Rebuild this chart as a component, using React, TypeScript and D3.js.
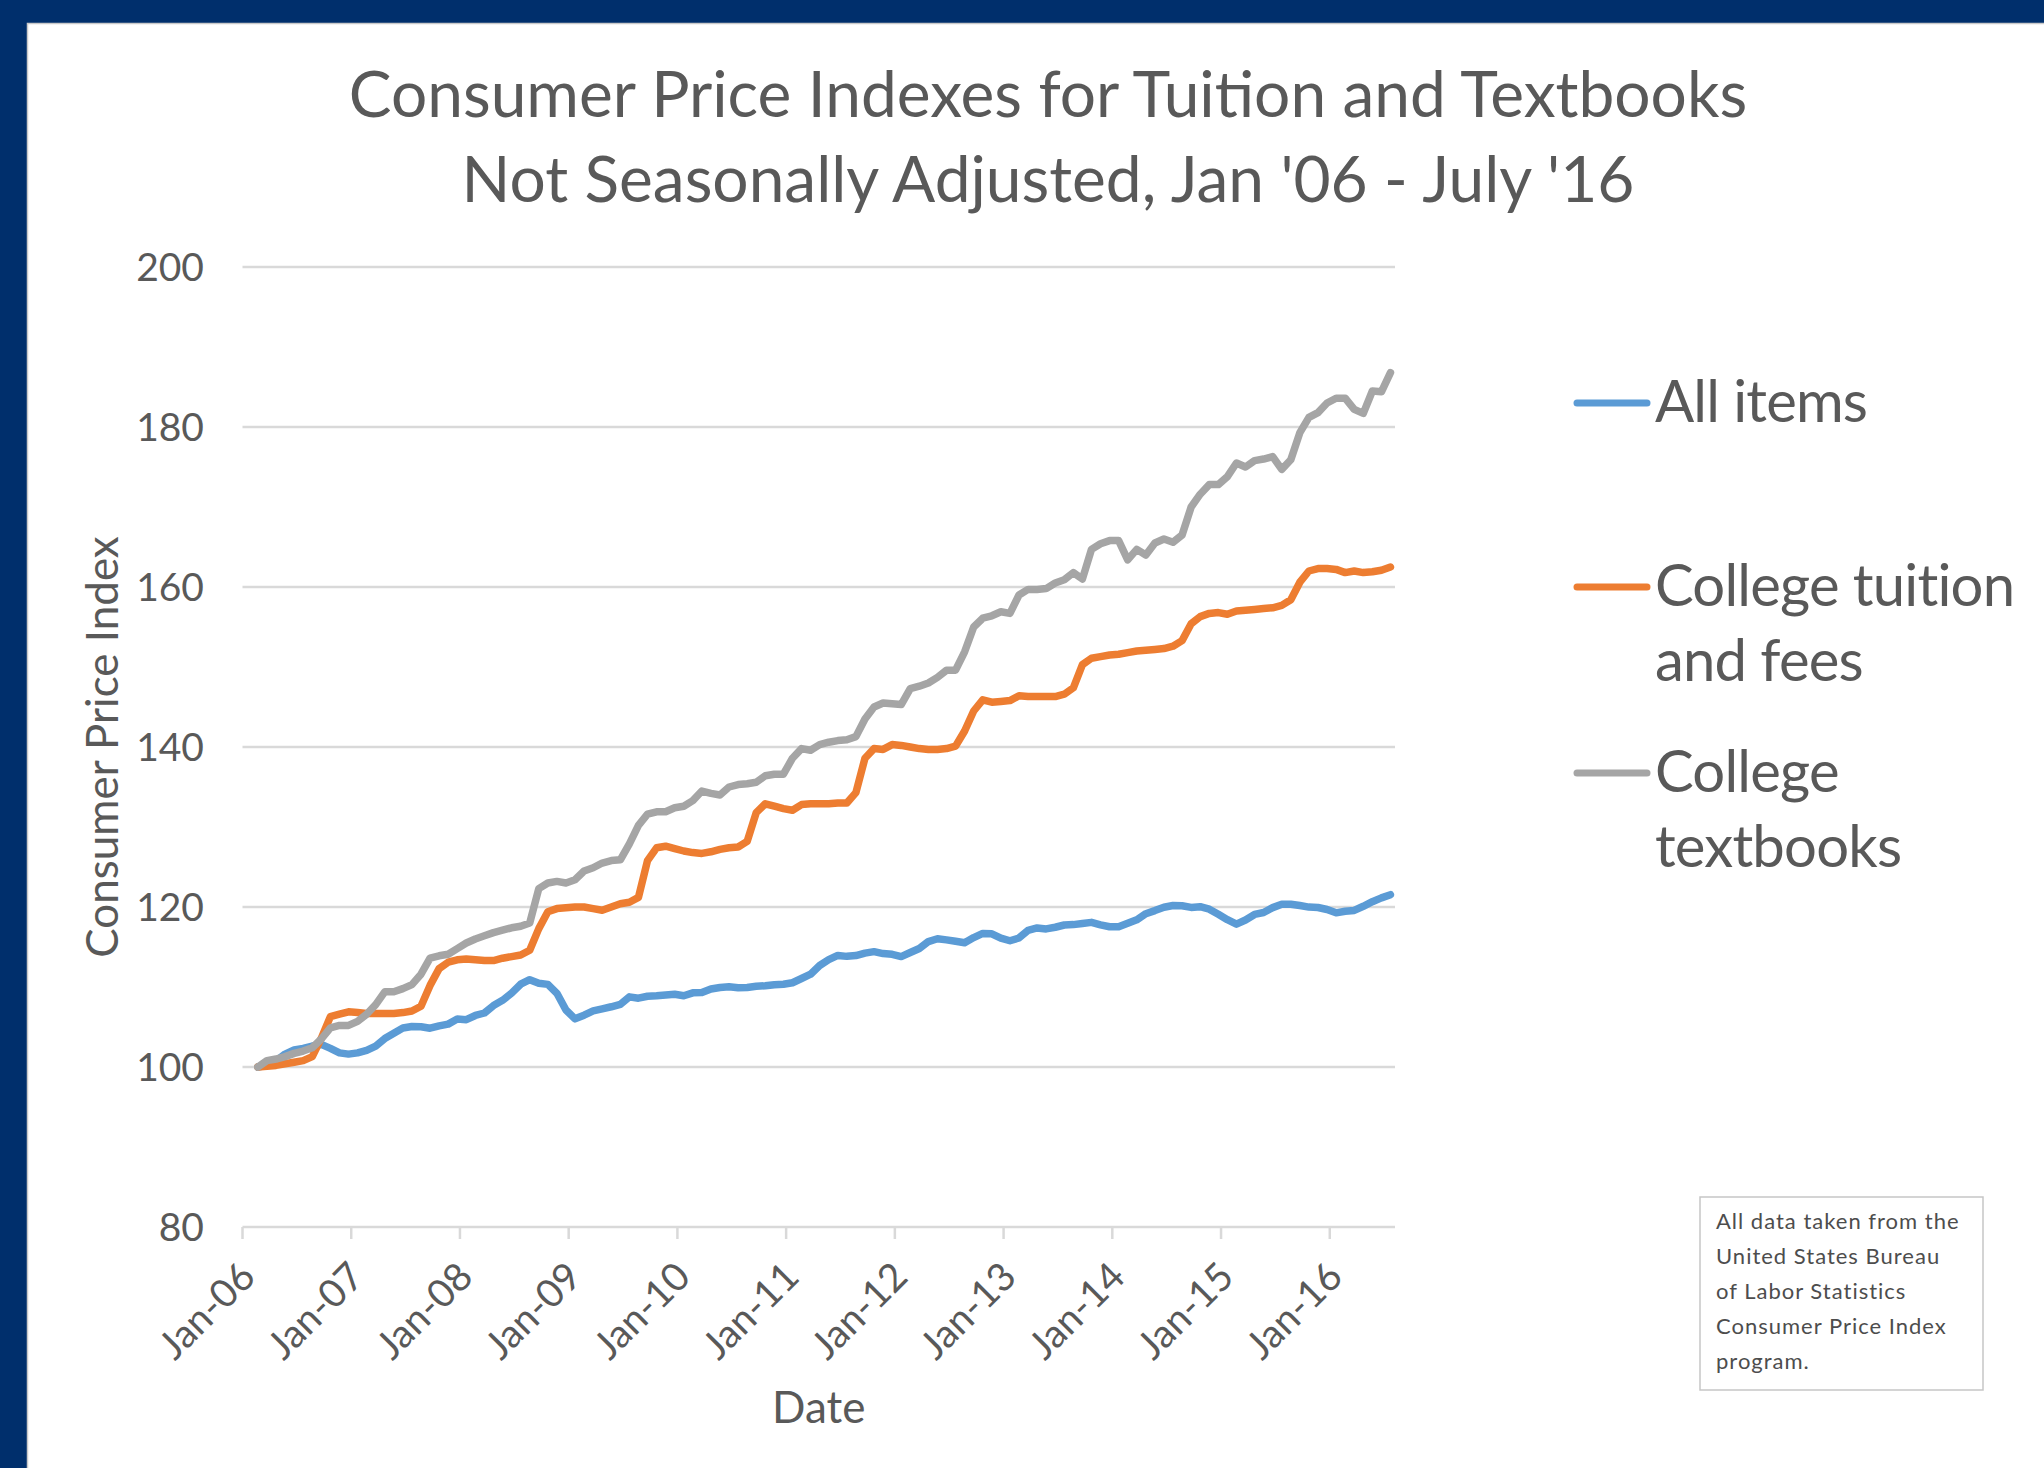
import React from "react";
import * as d3 from "d3";

const W = 2044;
const H = 1468;

// monthly points, Jan 2006 .. Jun 2016 (index Jan 2006 = 100)
const months = d3.timeMonth.range(new Date(2006, 0, 1), new Date(2016, 6, 1));
const yearLabels = ["Jan-06", "Jan-07", "Jan-08", "Jan-09", "Jan-10", "Jan-11", "Jan-12", "Jan-13", "Jan-14", "Jan-15", "Jan-16"];
const yTicks = [80, 100, 120, 140, 160, 180, 200];

const allItems = [
  100.0, 100.2, 100.76, 101.61, 102.12, 102.32, 102.62, 102.82, 102.32, 101.77, 101.61, 101.77,
  102.08, 102.62, 103.56, 104.23, 104.87, 105.07, 105.04, 104.85, 105.14, 105.36, 105.99, 105.92,
  106.44, 106.75, 107.68, 108.33, 109.24, 110.35, 110.92, 110.48, 110.33, 109.21, 107.12, 106.02,
  106.48, 107.01, 107.27, 107.53, 107.84, 108.77, 108.6, 108.84, 108.91, 109.01, 109.09, 108.9,
  109.27, 109.3, 109.75, 109.94, 110.02, 109.92, 109.94, 110.09, 110.16, 110.29, 110.34, 110.53,
  111.06, 111.6, 112.69, 113.42, 113.95, 113.83, 113.93, 114.24, 114.42, 114.18, 114.08, 113.8,
  114.31, 114.81, 115.68, 116.03, 115.89, 115.72, 115.53, 116.18, 116.7, 116.65, 116.1, 115.78,
  116.13, 117.08, 117.38, 117.26, 117.47, 117.75, 117.8, 117.94, 118.08, 117.77, 117.53, 117.52,
  117.96, 118.4, 119.16, 119.55, 119.97, 120.19, 120.15, 119.95, 120.04, 119.73, 119.09, 118.41,
  117.86, 118.37, 119.07, 119.31, 119.92, 120.34, 120.35, 120.18, 119.99, 119.94, 119.69, 119.27,
  119.47, 119.57, 120.09, 120.66, 121.14, 121.54,
];

const tuition = [
  100.0, 100.1, 100.2, 100.4, 100.6, 100.8, 101.3, 103.6, 106.3, 106.6, 106.9, 106.8,
  106.7, 106.7, 106.7, 106.7, 106.8, 107.0, 107.6, 110.2, 112.3, 113.1, 113.4, 113.5,
  113.4, 113.3, 113.3, 113.6, 113.8, 114.0, 114.6, 117.3, 119.4, 119.8, 119.9, 120.0,
  120.0, 119.8, 119.6, 120.0, 120.4, 120.6, 121.2, 125.8, 127.4, 127.6, 127.3, 127.0,
  126.8, 126.7, 126.9, 127.2, 127.4, 127.5, 128.2, 131.8, 132.9, 132.6, 132.3, 132.1,
  132.8, 132.9, 132.9, 132.9, 133.0, 133.0, 134.3, 138.6, 139.8, 139.7, 140.3, 140.2,
  140.0, 139.8, 139.7, 139.7, 139.8, 140.1, 142.0, 144.5, 145.9, 145.6, 145.7, 145.8,
  146.4, 146.3, 146.3, 146.3, 146.3, 146.6, 147.4, 150.3, 151.1, 151.3, 151.5, 151.6,
  151.8, 152.0, 152.1, 152.2, 152.3, 152.6, 153.3, 155.4, 156.3, 156.7, 156.8, 156.6,
  157.0, 157.1, 157.2, 157.3, 157.4, 157.7, 158.4, 160.6, 162.0, 162.3, 162.3, 162.2,
  161.8, 162.0, 161.8, 161.9, 162.1, 162.5,
];

const textbooks = [
  100.0, 100.8, 101.0, 101.3, 101.7, 102.0, 102.4, 103.5, 104.9, 105.2, 105.2, 105.7,
  106.6, 107.8, 109.4, 109.4, 109.8, 110.3, 111.6, 113.6, 113.9, 114.1, 114.8, 115.5,
  116.0, 116.4, 116.8, 117.1, 117.4, 117.6, 118.0, 122.3, 123.0, 123.2, 123.0, 123.4,
  124.5, 124.9, 125.5, 125.8, 125.9, 127.9, 130.2, 131.6, 131.9, 131.9, 132.4, 132.6,
  133.3, 134.5, 134.2, 134.0, 135.0, 135.3, 135.4, 135.6, 136.4, 136.6, 136.6, 138.6,
  139.8, 139.6, 140.3, 140.6, 140.8, 140.9, 141.3, 143.5, 145.0, 145.5, 145.4, 145.3,
  147.3, 147.6, 148.0, 148.7, 149.6, 149.6, 151.9, 155.0, 156.1, 156.4, 156.9, 156.7,
  159.0, 159.7, 159.7, 159.8, 160.5, 160.9, 161.8, 161.0, 164.7, 165.4, 165.8, 165.8,
  163.4, 164.7, 164.0, 165.5, 166.0, 165.6, 166.5, 170.0, 171.6, 172.8, 172.8, 173.8,
  175.5, 175.0, 175.8, 176.0, 176.3, 174.7, 175.9, 179.3, 181.2, 181.8, 183.0, 183.6,
  183.6, 182.2, 181.7, 184.5, 184.4, 186.8,
];

const series = [
  { label: ["All items"], color: "#5b9bd5", values: allItems },
  { label: ["College tuition", "and fees"], color: "#ed7d31", values: tuition },
  { label: ["College", "textbooks"], color: "#a5a5a5", values: textbooks },
];

const noteLines = [
  "All data taken from the",
  "United States Bureau",
  "of Labor Statistics",
  "Consumer Price Index",
  "program.",
];

const font = "Lato, 'Open Sans', sans-serif";
const textColor = "#595959";
const gridColor = "#d9d9d9";

// plot box
const left = 242.5;
const right = 1395;
const top = 267;
const bottom = 1227;
// the year ticks sit a little before each January point (as in the source chart)
const tickLead = 1.7;

export default function App() {
  const x = d3.scaleLinear().domain([-tickLead, months.length - 0.5]).range([left, right]);
  const y = d3.scaleLinear().domain([80, 200]).range([bottom, top]);

  const line = d3
    .line<number>()
    .x((_, i) => x(i))
    .y((d) => y(d));

  const yearPos = yearLabels.map((_, i) => x(i * 12 - tickLead));

  return (
    <svg width={W} height={H} style={{ display: "block" }}>
      <style>{"body{margin:0;overflow:hidden}"}</style>
      <rect x={0} y={0} width={W} height={H} fill="#002f6c" />
      <rect x={27} y={23} width={W - 27} height={H - 23} fill="#ffffff" />
      <path d={`M27.5,${H} V23.5 H${W}`} fill="none" stroke="#c9c9c9" strokeWidth={1.5} />

      <g fontFamily={font} fill={textColor} fontSize={64} textAnchor="middle">
        <text x={1048} y={117}>
          Consumer Price Indexes for Tuition and Textbooks
        </text>
        <text x={1048} y={202}>
          Not Seasonally Adjusted, Jan '06 - July '16
        </text>
      </g>

      {/* grid */}
      <g>
        {yTicks.map((t) => (
          <line key={t} x1={left} x2={right} y1={y(t)} y2={y(t)} stroke={gridColor} strokeWidth={2.5} />
        ))}
        {yearPos.map((p, i) => (
          <line key={i} x1={p} x2={p} y1={bottom} y2={bottom + 12} stroke={gridColor} strokeWidth={2.5} />
        ))}
      </g>

      <g fontFamily={font} fill={textColor} fontSize={39}>
        {yTicks.map((t) => (
          <text key={t} x={204} y={y(t)} dy="0.36em" textAnchor="end">
            {t}
          </text>
        ))}
        {yearLabels.map((l, i) => (
          <text
            key={l}
            textAnchor="end"
            transform={`translate(${yearPos[i] + 15},${1279}) rotate(-45)`}
          >
            {l}
          </text>
        ))}
      </g>

      <g fontFamily={font} fill={textColor} fontSize={44}>
        <text x={(left + right) / 2} y={1423} textAnchor="middle">
          Date
        </text>
        <text transform={`translate(118,${747}) rotate(-90)`} textAnchor="middle">
          Consumer Price Index
        </text>
      </g>

      <g fill="none" strokeWidth={7.5} strokeLinejoin="round" strokeLinecap="round">
        {series.map((s) => (
          <path key={s.label.join(" ")} d={line(s.values) || ""} stroke={s.color} />
        ))}
      </g>

      {/* legend */}
      <g fontFamily={font} fill={textColor} fontSize={58} letterSpacing={-0.8}>
        {series.map((s, i) => {
          const ly = [403, 587, 773][i];
          return (
            <g key={i}>
              <line x1={1577} x2={1647} y1={ly} y2={ly} stroke={s.color} strokeWidth={7} strokeLinecap="round" />
              {s.label.map((t, j) => (
                <text key={j} x={1655} y={ly + 19 + j * 75}>
                  {t}
                </text>
              ))}
            </g>
          );
        })}
      </g>

      {/* source note */}
      <rect x={1700} y={1197} width={283} height={193} fill="#ffffff" stroke="#c6c6c6" strokeWidth={1.5} />
      <g fontFamily={font} fill="#4d4d4d" fontSize={22} letterSpacing={1}>
        {noteLines.map((t, i) => (
          <text key={i} x={1716} y={1229 + i * 35}>
            {t}
          </text>
        ))}
      </g>
    </svg>
  );
}
